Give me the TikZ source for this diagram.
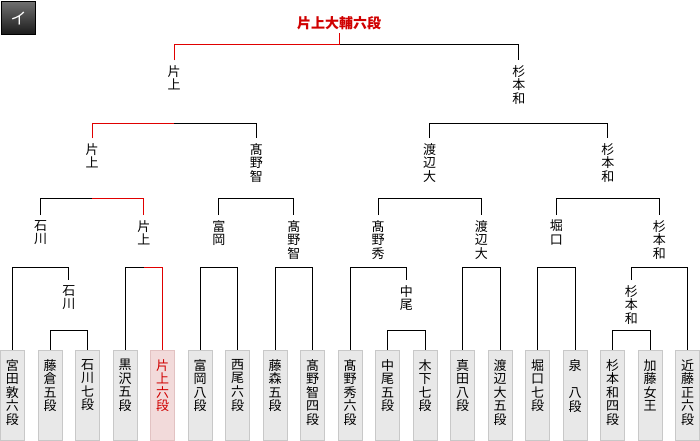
\documentclass[tikz,border=0pt]{standalone}
\usepackage{fontspec}
\setmainfont{Noto Sans CJK JP}
\usepackage{tikz}
\usetikzlibrary{calc}
\usepackage{xcolor}
\definecolor{LfF}{HTML}{E8E8E8}
\definecolor{LfD}{HTML}{C8C8C8}
\definecolor{WnF}{HTML}{F2DADA}
\definecolor{WnD}{HTML}{E2C2C2}
\definecolor{RdL}{HTML}{E00000}
\definecolor{RdT}{HTML}{D00000}
\definecolor{TabT}{HTML}{707070}
\definecolor{TabB}{HTML}{1A1A1A}
\newcommand{\vname}[1]{\parbox[c][72pt][t]{22pt}{\centering #1}}
\tikzset{
  LEAF/.style={
    rectangle, draw=LfD, fill=LfF, line width=1pt,
    anchor=north, inner sep=0pt,
    minimum width=24pt, minimum height=90.5pt,
    font=\fontsize{13}{13.6}\selectfont
  },
  LEAFW/.style={LEAF, draw=WnD, fill=WnF, text=RdT},
  LBL/.style={
    anchor=north, align=center, inner xsep=0pt, inner ysep=5pt,
    font=\fontsize{13}{13.6}\selectfont
  },
  TAB/.style={
    rectangle, draw=black, line width=0.8pt,
    top color=TabT, bottom color=TabB, text=white,
    minimum width=34pt, minimum height=33pt, inner sep=0pt,
    font=\fontsize{16}{16}\selectfont
  },
  LNK/.style={line width=1pt, color=black},
  WIN/.style={line width=1pt, color=RdL},
}

\begin{document}
\begin{tikzpicture}[x=1pt,y=-1pt]
\useasboundingbox (0,0) rectangle (700,440);

%================ BRACKET LEVELS =================
\coordinate (b0) at (0,330);
\coordinate (b1) at (0,267);
\coordinate (b2) at (0,198);
\coordinate (b3) at (0,123);
\coordinate (b4) at (0,44);

%================ TAB + TITLE =================
\node[TAB] (tab) at (18.5,18) {イ};
\node[font=\fontsize{14}{14}\selectfont\bfseries,text=RdT,inner sep=3pt]
(champ) at (339,23) {片上大輔六段};

%================ PLAYERS =================
\node[LEAF]  (miyata)    at ( 12.5,349.5) {\vname{宮\\田\\敦\\六\\段}};
\node[LEAF]  (fujikura)  at ( 50.0,349.5) {\vname{藤\\倉\\五\\段}};
\node[LEAF]  (ishikawa)  at ( 87.5,349.5) {\vname{石\\川\\七\\段}};
\node[LEAF]  (kurosawa)  at (125.0,349.5) {\vname{黒\\沢\\五\\段}};
\node[LEAFW] (katakami)  at (162.5,349.5) {\vname{片\\上\\六\\段}};
\node[LEAF]  (tomioka)   at (200.0,349.5) {\vname{富\\岡\\八\\段}};
\node[LEAF]  (nishio)    at (237.5,349.5) {\vname{西\\尾\\六\\段}};
\node[LEAF]  (fujimori)  at (275.0,349.5) {\vname{藤\\森\\五\\段}};
\node[LEAF]  (takanoT)   at (312.5,349.5) {\vname{髙\\野\\智\\四\\段}};
\node[LEAF]  (takanoH)   at (350.0,349.5) {\vname{髙\\野\\秀\\六\\段}};
\node[LEAF]  (nakao)     at (387.5,349.5) {\vname{中\\尾\\五\\段}};
\node[LEAF]  (kinoshita) at (425.0,349.5) {\vname{木\\下\\七\\段}};
\node[LEAF]  (sanada)    at (462.5,349.5) {\vname{真\\田\\八\\段}};
\node[LEAF]  (watanabe)  at (500.0,349.5) {\vname{渡\\辺\\大\\五\\段}};
\node[LEAF]  (horiguchi) at (537.5,349.5) {\vname{堀\\口\\七\\段}};
\node[LEAF]  (izumi)     at (575.0,349.5) {\vname{泉\\\mbox{}\\八\\段}};
\node[LEAF]  (sugimoto)  at (612.5,349.5) {\vname{杉\\本\\和\\四\\段}};
\node[LEAF]  (katoJ)     at (650.0,349.5) {\vname{加\\藤\\女\\王}};
\node[LEAF]  (kondo)     at (687.5,349.5) {\vname{近\\藤\\正\\六\\段}};

%================ WINNERS =================
% preliminary
\node[LBL] (ishiP) at ( 68.75,280) {石\\川};
\node[LBL] (nakaP) at (406.25,280) {中\\尾};
\node[LBL] (sugiP) at (631.25,280) {杉\\本\\和};
% round 1
\node[LBL] (ishi1)  at ( 40.625,215) {石\\川};
\node[LBL] (kata1)  at (143.75, 215) {片\\上};
\node[LBL] (tomi1)  at (218.75, 215) {富\\岡};
\node[LBL] (takaT1) at (293.75, 215) {髙\\野\\智};
\node[LBL] (takaH1) at (378.125,215) {髙\\野\\秀};
\node[LBL] (wata1)  at (481.25, 215) {渡\\辺\\大};
\node[LBL] (hori1)  at (556.25, 215) {堀\\口};
\node[LBL] (sugi1)  at (659.375,215) {杉\\本\\和};
% round 2
\node[LBL] (kata2)  at ( 92.19,138) {片\\上};
\node[LBL] (takaT2) at (256.25,138) {髙\\野\\智};
\node[LBL] (wata2)  at (429.69,138) {渡\\辺\\大};
\node[LBL] (sugi2)  at (607.81,138) {杉\\本\\和};
% round 3
\node[LBL] (kata3)  at (174.22,60) {片\\上};
\node[LBL] (sugi3)  at (518.75,60) {杉\\本\\和};

%================ PRELIMINARY =================
\draw[LNK] (fujikura.north) -- (fujikura.north |- b0) -| (ishikawa.north);
\draw[LNK] (nakao.north) -- (nakao.north |- b0) -| (kinoshita.north);
\draw[LNK] (sugimoto.north) -- (sugimoto.north |- b0) -| (katoJ.north);

%================ ROUND 1 =================
\draw[LNK] (miyata.north) -- (miyata.north |- b1) -| (ishiP.north);
\draw[LNK] (kurosawa.north) -- (kurosawa.north |- b1) -| (katakami.north);
\draw[LNK] (tomioka.north) -- (tomioka.north |- b1) -| (nishio.north);
\draw[LNK] (fujimori.north) -- (fujimori.north |- b1) -| (takanoT.north);
\draw[LNK] (takanoH.north) -- (takanoH.north |- b1) -| (nakaP.north);
\draw[LNK] (sanada.north) -- (sanada.north |- b1) -| (watanabe.north);
\draw[LNK] (horiguchi.north) -- (horiguchi.north |- b1) -| (izumi.north);
\draw[LNK] (sugiP.north) -- (sugiP.north |- b1) -| (kondo.north);

%================ ROUND 2 =================
\draw[LNK] (ishi1.north) -- (ishi1.north |- b2) -| (kata1.north);
\draw[LNK] (tomi1.north) -- (tomi1.north |- b2) -| (takaT1.north);
\draw[LNK] (takaH1.north) -- (takaH1.north |- b2) -| (wata1.north);
\draw[LNK] (hori1.north) -- (hori1.north |- b2) -| (sugi1.north);

%================ ROUND 3 =================
\draw[LNK] (kata2.north) -- (kata2.north |- b3) -| (takaT2.north);
\draw[LNK] (wata2.north) -- (wata2.north |- b3) -| (sugi2.north);

%================ FINAL =================
\draw[LNK] (kata3.north) -- (kata3.north |- b4) -| (sugi3.north);

%================ WINNING PATH =================
\draw[WIN] (katakami.north) -- (katakami.north |- b1) -- (kata1.north |- b1);
\draw[WIN] (kata1.north) -- (kata1.north |- b2) -- (kata2.north |- b2);
\draw[WIN] (kata2.north) -- (kata2.north |- b3) -- (kata3.north |- b3);
\draw[WIN] (kata3.north) -- (kata3.north |- b4) -| (champ.south);

\end{tikzpicture}
\end{document}
